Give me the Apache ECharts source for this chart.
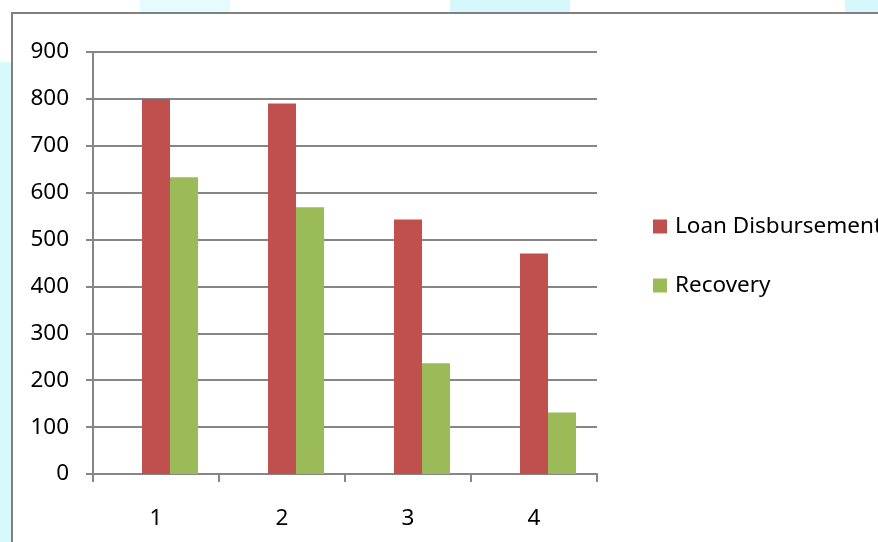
<!DOCTYPE html>
<html>
<head>
<meta charset="utf-8">
<script src="https://cdn.jsdelivr.net/npm/echarts@6/dist/echarts.min.js"></script>
<style>
html, body { margin: 0; padding: 0; background: #fff; }
#main { width: 878px; height: 542px; }
</style>
</head>
<body>
<div id="main"></div>
<script>
var categories = ['1', '2', '3', '4'];
var loanDisbursement = [800, 790, 543, 470];
var recovery = [633, 569, 236, 131];
// the source chart keeps an empty slot before the two series
var emptySlot = [null, null, null, null];

var myChart = echarts.init(document.getElementById('main'));
var font = '"Noto Sans", sans-serif';
var option = {
    backgroundColor: '#ffffff',
    animation: false,
    graphic: [
        // faint cyan background outside the chart frame
        { type: 'rect', shape: { x: 0, y: 62, width: 11, height: 480 }, style: { fill: '#d9f8fc' }, silent: true },
        { type: 'rect', shape: { x: 140, y: 0, width: 90, height: 12 }, style: { fill: '#e6fbfd' }, silent: true },
        { type: 'rect', shape: { x: 450, y: 0, width: 120, height: 12 }, style: { fill: '#d6f8fc' }, silent: true },
        { type: 'rect', shape: { x: 845, y: 0, width: 33, height: 12 }, style: { fill: '#d6f8fc' }, silent: true },
        { type: 'rect', shape: { x: 12, y: 13, width: 900, height: 600 },
          style: { fill: '#ffffff', stroke: '#808080', lineWidth: 2 }, silent: true, z: -1 }
    ],
    grid: {
        left: 93,
        top: 52,
        right: 281,
        bottom: 68
    },
    legend: {
        orient: 'vertical',
        left: 653,
        top: 215,
        padding: 0,
        itemWidth: 14,
        itemHeight: 14,
        itemGap: 36,
        icon: 'rect',
        textStyle: { fontFamily: font, fontSize: 22.5, color: '#000', padding: [0, 0, 0, 3] },
        data: ['Loan Disbursement', 'Recovery']
    },
    xAxis: {
        type: 'category',
        data: categories,
        axisLine: { lineStyle: { color: '#868686', width: 2 } },
        axisTick: { show: true, length: 8, lineStyle: { color: '#868686', width: 2 } },
        axisLabel: { fontFamily: font, fontSize: 22.5, color: '#000', margin: 33 }
    },
    yAxis: {
        type: 'value',
        min: 0,
        max: 900,
        interval: 100,
        axisLine: { show: true, lineStyle: { color: '#868686', width: 2 } },
        axisTick: { show: true, inside: false, length: 7, lineStyle: { color: '#868686', width: 2 } },
        splitLine: { lineStyle: { color: '#868686', width: 2 } },
        axisLabel: { fontFamily: font, fontSize: 22.5, color: '#000', margin: 24 }
    },
    series: [
        {
            name: '',
            type: 'bar',
            data: emptySlot,
            barWidth: 28,
            barGap: '0%',
            silent: true
        },
        {
            name: 'Loan Disbursement',
            type: 'bar',
            data: loanDisbursement,
            barWidth: 28,
            barGap: '0%',
            itemStyle: { color: '#C0504D' }
        },
        {
            name: 'Recovery',
            type: 'bar',
            data: recovery,
            barWidth: 28,
            barGap: '0%',
            itemStyle: { color: '#9BBB59' }
        }
    ]
};
myChart.setOption(option);
</script>
</body>
</html>
